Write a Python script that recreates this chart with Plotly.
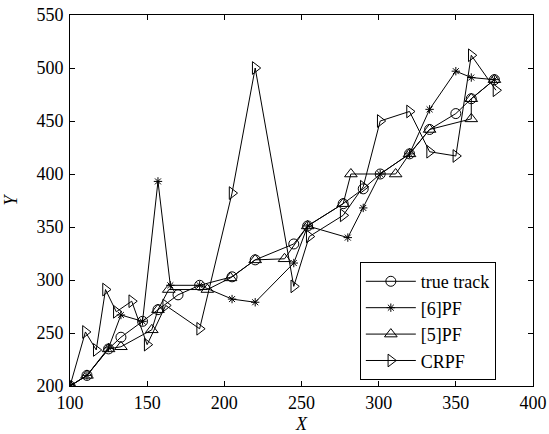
import plotly.graph_objects as go

# true track
true_x = [100, 111, 125, 133, 147, 157, 170, 184, 205, 220, 245, 254, 277, 290, 301, 320, 333, 350, 360, 375]
true_y = [200, 210, 235, 246, 261, 272, 286, 295, 303, 319, 334, 351, 372, 386, 400, 419, 442, 457, 471, 489]

# [6]PF
pf6_x = [100, 111, 125, 133, 147, 157, 165, 184, 205, 220, 245, 254, 280, 290, 301, 320, 333, 350, 360, 375]
pf6_y = [200, 210, 236, 267, 261, 393, 295, 295, 282, 279, 316, 351, 340, 368, 400, 419, 461, 497, 491, 489]

# [5]PF
pf5_x = [100, 111, 125, 133, 153, 157, 164, 189, 204, 220, 239, 254, 277, 282, 311, 320, 333, 360, 360, 375]
pf5_y = [200, 210, 235, 237, 253, 272, 291, 291, 302, 319, 320, 351, 372, 400, 400, 419, 442, 452, 471, 489]

# CRPF
crpf_x = [100, 110, 117, 123, 130, 140, 150, 162, 184, 205, 220, 245, 255, 277, 290, 301, 320, 333, 350, 360, 376]
crpf_y = [200, 251, 234, 291, 270, 280, 239, 276, 254, 382, 500, 294, 341, 361, 388, 450, 459, 421, 417, 512, 479]

x_ticks = [100, 150, 200, 250, 300, 350, 400]
y_ticks = [200, 250, 300, 350, 400, 450, 500, 550]

FONT = "Liberation Serif"
FS = 18

fig = go.Figure()
series = [
    ("true track", true_x, true_y, dict(symbol="circle-open", size=10)),
    ("[6]PF", pf6_x, pf6_y, dict(symbol="asterisk-open", size=7)),
    ("[5]PF", pf5_x, pf5_y, dict(symbol="triangle-up-open", size=11)),
    ("CRPF", crpf_x, crpf_y, dict(symbol="triangle-right-open", size=11)),
]
for i, (name, xs, ys, mk) in enumerate(series):
    fig.add_trace(go.Scatter(
        x=xs, y=ys, name=name, mode="lines+markers",
        line=dict(color="black", width=1),
        marker=dict(color="black", line=dict(color="black", width=1), **mk),
        legendgroup=f"g{i}",
    ))

axis_common = dict(
    showgrid=False, zeroline=False, showline=True, linecolor="black", linewidth=1,
    mirror="ticks", ticks="inside", ticklen=5, tickcolor="black", automargin=False,
    tickfont=dict(family=FONT, size=FS, color="black"),
)
fig.update_xaxes(range=[100, 400], tickvals=x_ticks,
                 title=dict(text="<i>X</i>", font=dict(family=FONT, size=FS, color="black"), standoff=10),
                 **axis_common)
fig.update_yaxes(range=[200, 550], tickvals=y_ticks, ticklabelstandoff=2,
                 title=dict(text="<i>Y</i>", font=dict(family=FONT, size=FS, color="black"), standoff=14),
                 **axis_common)

fig.update_layout(
    width=549, height=434,
    margin=dict(l=70, r=16, t=15, b=48),
    plot_bgcolor="white", paper_bgcolor="white",
    font=dict(family=FONT, size=FS, color="black"),
    showlegend=True,
    legend=dict(
        x=0.626, y=0.334, xanchor="left", yanchor="top",
        bgcolor="white", bordercolor="black", borderwidth=1,
        font=dict(family=FONT, size=FS, color="black"),
        itemwidth=50, tracegroupgap=0,
    ),
)

fig.write_html("out.html")
